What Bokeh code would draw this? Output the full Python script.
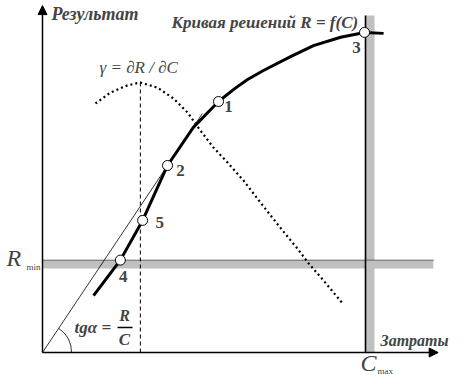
from bokeh.plotting import figure
from bokeh.models import Range1d, Arrow, NormalHead, Label
from bokeh.embed import file_html
from bokeh.resources import INLINE
import numpy as np

# ---- data (units: C = costs, R = result) ----
curve_C = [1.58, 2.41, 3.10, 3.87, 4.67, 5.45, 5.95, 6.35, 6.84, 7.68, 8.39, 9.23, 9.97, 10.56]
curve_R = [1.76, 2.86, 4.09, 5.79, 6.97, 7.77, 8.17, 8.45, 8.73, 9.16, 9.50, 9.76, 9.91, 9.88]

gamma_C = [1.64, 2.11, 2.63, 3.03, 3.56, 4.06, 4.49, 4.89, 5.29, 5.73, 6.22,
           6.75, 7.43, 7.89, 8.24, 8.70, 9.29]
gamma_V = [7.71, 8.05, 8.27, 8.36, 8.20, 7.86, 7.43, 6.87, 6.35, 5.88, 5.33,
           4.64, 3.78, 3.22, 2.76, 2.23, 1.52]

pts_label = ["1", "2", "3", "4", "5"]
pts_C = [5.45, 3.87, 9.97, 2.41, 3.10]
pts_R = [7.77, 5.79, 9.91, 2.86, 4.09]

R_min = 2.86
C_max = 10.0
tangent_C = [0.0, 4.95]
tangent_R = [0.0, 7.40]
gamma_peak_C = 3.03
gamma_peak = 8.36

K = 32.3  # pixels per unit
W, H = 464, 384

p = figure(width=W, height=H, output_backend="svg", toolbar_location=None,
           x_range=Range1d(-42 / K, (W - 42) / K),
           y_range=Range1d(-(H - 352) / K, 352 / K),
           min_border=0)
p.axis.visible = False
p.grid.visible = False
p.outline_line_color = None
p.background_fill_color = "white"

def px(x, y):
    return (x - 42) / K, (352 - y) / K

GRAY = "#c0c0c0"
# gray bands
p.quad(left=[0], right=[12.1], top=[R_min], bottom=[R_min - 0.26], fill_color=GRAY, line_color=None)
p.quad(left=[C_max], right=[C_max + 0.28], bottom=[0], top=[10.43], fill_color=GRAY, line_color=None)
p.line([0, 12.1], [R_min, R_min], line_color="black", line_width=1, line_dash="1 1")
p.line([C_max, C_max], [0, 10.43], line_color="black", line_width=1.6)

# axes
p.add_layout(Arrow(end=NormalHead(size=9, fill_color="black", line_color="black"),
                   x_start=0, y_start=0, x_end=0, y_end=10.74, line_width=1.5))
p.add_layout(Arrow(end=NormalHead(size=9, fill_color="black", line_color="black"),
                   x_start=0, y_start=0, x_end=12.25, y_end=0, line_width=1.5))

# tangent line and angle arc
p.line(tangent_C, tangent_R, line_color="black", line_width=0.8)
ang = np.arctan2(tangent_R[1], tangent_C[1])
p.arc(x=[0], y=[0], radius=0.9, start_angle=0, end_angle=ang, line_color="black", line_width=0.8)

# dashed vertical at gamma peak
p.line([gamma_peak_C, gamma_peak_C], [0, gamma_peak], line_color="black", line_width=1, line_dash="4 3")

# gamma curve (dotted)
p.line(gamma_C, gamma_V, line_color="black", line_width=2.2, line_dash="2 3")

# decision curve
p.line(curve_C, curve_R, line_color="black", line_width=3, line_join="round")
p.scatter(pts_C, pts_R, size=10, marker="circle", fill_color="white", line_color="black", line_width=1)

def label(txt, x, y, size, style="bold italic", align="left"):
    s = float(size.replace("px", ""))
    cx, cy = px(x, y + 0.5 * s)
    p.add_layout(Label(x=cx, y=cy, text=txt, text_font="Liberation Serif",
                       text_font_style=style, text_font_size=size, text_align=align))

# point labels
lab_off = [(10, 2), (13, 2), (-8, 12), (3, 13), (17, -1)]
for t, c, r, (dx, dy) in zip(pts_label, pts_C, pts_R, lab_off):
    X = c * K + 42 + dx
    Y = 352 - r * K + dy
    label(t, X, Y, "17px", "bold", "center")

label("Результат", 51, 14, "18px")
label("Кривая решений  R = f(C)", 171, 23, "17px")
label("γ = ∂R / ∂C", 99, 68, "17px", "italic")
label("Затраты", 380, 340, "16px")
label("R", 6, 258, "24px", "italic")
label("min", 26, 267, "9px", "normal")
label("C", 360, 363, "24px", "italic")
label("max", 377, 371, "9px", "normal")
label("tgα =", 74, 328, "17px")
label("R", 124, 315, "16px", "bold italic", "center")
label("C", 124, 340, "17px", "bold italic", "center")
x1, y1 = px(117, 327)
x2, _ = px(132, 327)
p.line([x1, x2], [y1, y1], line_color="black", line_width=1.5)

open("out.html", "w").write(file_html(p, INLINE))
